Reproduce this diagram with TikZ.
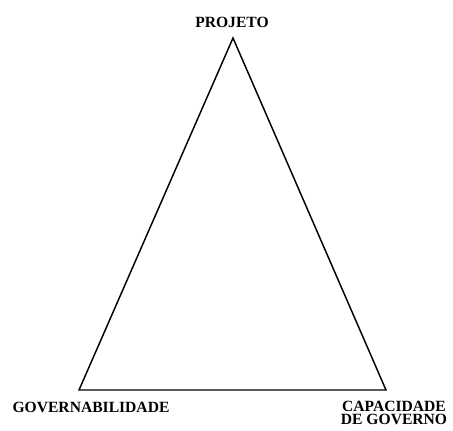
\documentclass[tikz,border=0pt]{standalone}
\usepackage{fontspec}
\setmainfont{Liberation Serif}
\usetikzlibrary{positioning}

\begin{document}
\begin{tikzpicture}[
    x=0.75pt, y=-0.75pt,
    side/.style={line width=1.1pt, line join=miter},
    vertexfont/.style={font=\bfseries\fontsize{11.7}{9.4}\selectfont, inner sep=0pt, align=center}
]

% Page frame (pixels of the reference)
\useasboundingbox (0,0) rectangle (453,430);

% Corners of the triangle
\coordinate (top) at (233,38);
\coordinate (left) at (79,390);
\coordinate (right) at (386,390);

% Triangle
\draw[side] (top) -- (left) -- (right) -- cycle;

% Labels at the corners
\node[vertexfont, anchor=base] (projeto) at (232,27) {PROJETO};
\node[vertexfont, anchor=base] (governabilidade) at (91,412) {GOVERNABILIDADE};
% two lines: base is the last line here
\node[vertexfont, anchor=base] (capacidade) at (394,424) {CAPACIDADE\\DE GOVERNO};

\end{tikzpicture}
\end{document}
